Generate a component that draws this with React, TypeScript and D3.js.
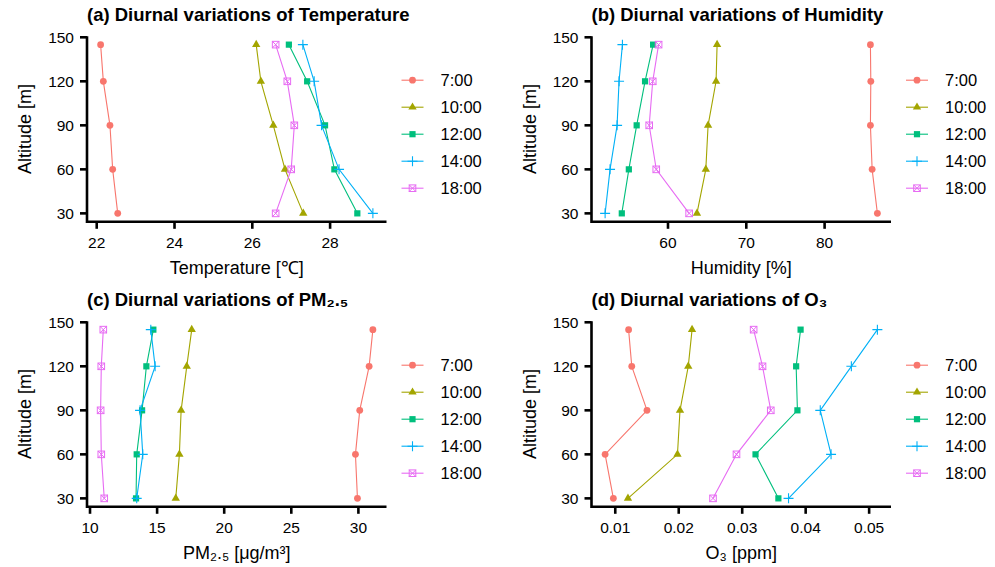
import React from "react";
import * as d3 from "d3";

// altitudes of the five measuring levels (m)
const altitudes = [30, 60, 90, 120, 145];
const altitudeTicks = [30, 60, 90, 120, 150];
const times = ["7:00", "10:00", "12:00", "14:00", "18:00"];
const timeColors = ["#F8766D", "#A3A500", "#00BF7D", "#00B0F6", "#E76BF3"];
const timeShapes = ["circle", "triangle", "square", "plus", "squareCross"];

// one row per time, values ordered like altitudes
const temperature = [
  [22.54, 22.41, 22.34, 22.17, 22.1],
  [27.31, 26.84, 26.54, 26.22, 26.1],
  [28.7, 28.11, 27.87, 27.41, 26.94],
  [29.1, 28.23, 27.78, 27.59, 27.3],
  [26.6, 27.0, 27.08, 26.9, 26.6],
];
const humidity = [
  [86.74, 86.07, 85.85, 85.9, 85.85],
  [63.7, 64.83, 65.12, 66.14, 66.27],
  [54.1, 55.0, 56.0, 57.07, 58.1],
  [51.97, 52.6, 53.5, 53.75, 54.18],
  [62.7, 58.5, 57.6, 58.05, 58.8],
];
const pm25 = [
  [29.93, 29.78, 30.1, 30.8, 31.08],
  [16.39, 16.66, 16.79, 17.21, 17.58],
  [13.43, 13.48, 13.88, 14.2, 14.72],
  [13.48, 13.93, 13.73, 14.85, 14.53],
  [11.06, 10.84, 10.79, 10.84, 10.99],
];
const ozone = [
  [0.0097, 0.0084, 0.015, 0.0126, 0.0121],
  [0.012, 0.0198, 0.0202, 0.0215, 0.0221],
  [0.0357, 0.0321, 0.0387, 0.0385, 0.0392],
  [0.0373, 0.044, 0.0423, 0.0472, 0.0513],
  [0.0254, 0.0291, 0.0345, 0.0332, 0.0318],
];

const panelTitles = [
  "(a) Diurnal variations of Temperature",
  "(b) Diurnal variations of Humidity",
  "(c) Diurnal variations of PM₂.₅",
  "(d) Diurnal variations of O₃",
];
const xLabels = ["Temperature [℃]", "Humidity [%]", "PM₂.₅ [μg/m³]", "O₃ [ppm]"];
const panelData = [temperature, humidity, pm25, ozone];

const W = 995;
const H = 567;
const FONT = "'Liberation Sans', Arial, Helvetica, sans-serif";
const PW = 299.5;
const PH = 185.6;
const lefts = [87, 591.5];
const tops = [36.2, 321.2];

// ggplot style 5% expansion
function expand(ext) {
  const pad = (ext[1] - ext[0]) * 0.05;
  return [ext[0] - pad, ext[1] + pad];
}

function Marker({ shape, color, x, y }) {
  const t = `translate(${x},${y})`;
  if (shape === "circle") return <circle cx={x} cy={y} r={3.4} fill={color} />;
  if (shape === "triangle")
    return <path transform={t} d={d3.symbol(d3.symbolTriangle, 30)()} fill={color} />;
  if (shape === "square")
    return <rect x={x - 3.1} y={y - 3.1} width={6.2} height={6.2} fill={color} />;
  if (shape === "plus")
    return <path transform={t} d="M-5,0H5M0,-5V5" stroke={color} strokeWidth={1.1} fill="none" />;
  return (
    <g transform={t} stroke={color} strokeWidth={1} fill="none">
      <rect x={-3.3} y={-3.3} width={6.6} height={6.6} />
      <path d="M-3.3,-3.3L3.3,3.3M-3.3,3.3L3.3,-3.3" />
    </g>
  );
}

function Panel({ idx }) {
  const series = panelData[idx];
  const left = lefts[idx % 2];
  const top = tops[Math.floor(idx / 2)];
  const x = d3
    .scaleLinear()
    .domain(expand(d3.extent(series.flat())))
    .range([left, left + PW]);
  const y = d3
    .scaleLinear()
    .domain(expand(d3.extent(altitudes)))
    .range([top + PH, top]);
  const xTicks = x.ticks(5);
  const fmt = x.tickFormat(5);
  const line = d3
    .line()
    .x((d) => x(d[0]))
    .y((d) => y(d[1]));
  const bottom = top + PH;
  const legX = left + PW + 15;

  return (
    <g>
      <text x={left} y={top - 15} fontSize={18.5} fontWeight="bold" fontFamily={FONT}>
        {panelTitles[idx]}
      </text>
      {series.map((vals, i) => {
        const pts = vals.map((v, j) => [v, altitudes[j]]);
        return (
          <g key={i}>
            <path d={line(pts)} fill="none" stroke={timeColors[i]} strokeWidth={1.1} />
            {pts.map((p, j) => (
              <Marker key={j} shape={timeShapes[i]} color={timeColors[i]} x={x(p[0])} y={y(p[1])} />
            ))}
          </g>
        );
      })}
      {/* axes */}
      <path
        d={`M${left},${top}V${bottom}H${left + PW}`}
        fill="none"
        stroke="#000"
        strokeWidth={2.6}
      />
      {altitudeTicks.map((t) => (
        <g key={t}>
          <line x1={left - 7} x2={left} y1={y(t)} y2={y(t)} stroke="#000" strokeWidth={2.6} />
          <text
            x={left - 13}
            y={y(t)}
            dy="0.36em"
            textAnchor="end"
            fontSize={15.5}
            fontFamily={FONT}
          >
            {t}
          </text>
        </g>
      ))}
      {xTicks.map((t) => (
        <g key={t}>
          <line x1={x(t)} x2={x(t)} y1={bottom} y2={bottom + 7} stroke="#000" strokeWidth={2.6} />
          <text x={x(t)} y={bottom + 26.5} textAnchor="middle" fontSize={15.5} fontFamily={FONT}>
            {fmt(t)}
          </text>
        </g>
      ))}
      <text
        x={left + PW / 2}
        y={bottom + 52}
        textAnchor="middle"
        fontSize={18}
        fontFamily={FONT}
      >
        {xLabels[idx]}
      </text>
      <text
        transform={`translate(${left - 56},${top + PH / 2}) rotate(-90)`}
        textAnchor="middle"
        fontSize={18}
        fontFamily={FONT}
      >
        Altitude [m]
      </text>
      {/* legend */}
      {times.map((tm, i) => {
        const ly = top + 44 + i * 27;
        return (
          <g key={tm}>
            <line x1={legX} x2={legX + 22} y1={ly} y2={ly} stroke={timeColors[i]} strokeWidth={1.1} />
            <Marker shape={timeShapes[i]} color={timeColors[i]} x={legX + 11} y={ly} />
            <text x={legX + 39} y={ly} dy="0.36em" fontSize={16.5} fontFamily={FONT}>
              {tm}
            </text>
          </g>
        );
      })}
    </g>
  );
}

export default function App() {
  return (
    <svg
      width={W}
      height={H}
      style={{ position: "absolute", left: 0, top: 0, background: "#fff" }}
    >
      {[0, 1, 2, 3].map((i) => (
        <Panel key={i} idx={i} />
      ))}
    </svg>
  );
}
